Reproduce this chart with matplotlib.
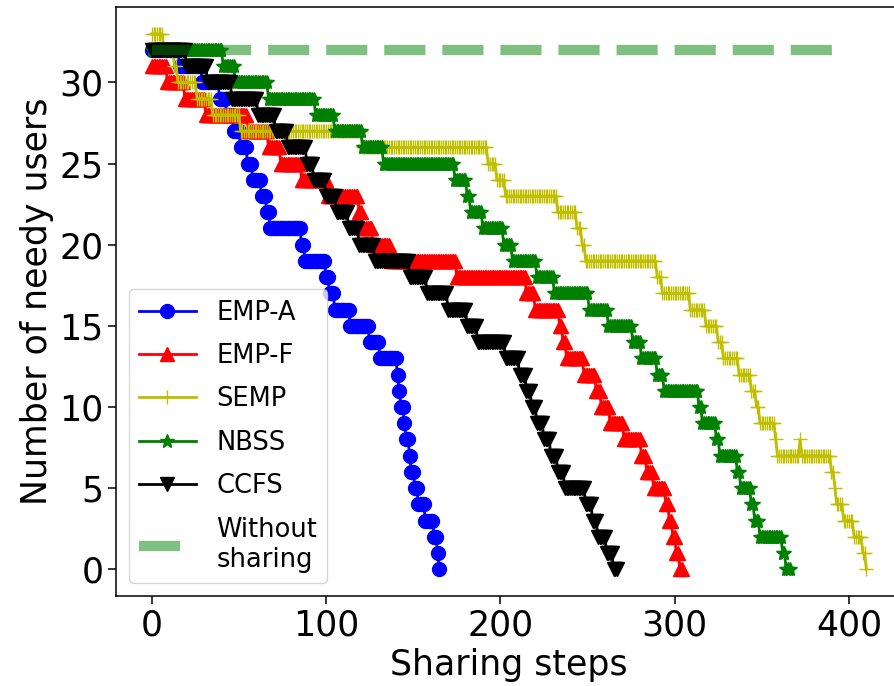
"""Needy users left vs. sharing steps for the five sharing schemes."""

import numpy as np
import matplotlib as mpl
import matplotlib.pyplot as plt

mpl.rcParams["font.family"] = "DejaVu Sans"

# every curve is a staircase: level value and last sharing step at that level
EMPA_LEVELS = [32, 31, 30, 29, 28, 27, 26, 25, 24, 23, 22, 21, 20, 19, 18, 17,
               16, 15, 14, 13, 12, 11, 10, 9, 8, 7, 6, 5, 4, 3, 2, 1, 0]
EMPA_ENDS = [15, 28, 38, 42, 46, 50, 54, 57, 62, 65, 67, 85, 87, 99, 101, 104,
             113, 124, 130, 140, 141, 142, 144, 145, 147, 148, 150, 152, 156,
             161, 163, 164, 165]

EMPF_LEVELS = [31, 30, 29, 28, 27, 26, 25, 24, 23, 22, 21, 20, 19, 18, 17, 16,
               15, 14, 13, 12, 11, 10, 9, 8, 7, 6, 5, 4, 3, 2, 1, 0]
EMPF_ENDS = [8, 18, 30, 54, 66, 73, 85, 100, 118, 120, 126, 136, 174, 214, 219,
             233, 235, 237, 247, 254, 257, 262, 270, 280, 283, 287, 294, 296,
             298, 300, 302, 304]

SEMP_LEVELS = [33, 32, 31, 30, 29, 28, 27, 26, 25, 24, 23, 22, 21, 20, 19, 18,
               17, 16, 15, 14, 13, 12, 11, 10, 9, 8, 7, 8, 7, 6, 5, 4, 3, 2, 1, 0]
SEMP_ENDS = [6, 12, 14, 25, 34, 50, 120, 192, 197, 202, 232, 243, 246, 248, 289,
             292, 308, 317, 324, 327, 336, 343, 346, 348, 357, 358, 371, 372,
             389, 391, 392, 396, 402, 407, 409, 410]

NBSS_LEVELS = [32, 31, 30, 29, 28, 27, 26, 25, 24, 23, 22, 21, 20, 19, 18, 17,
               16, 15, 14, 13, 12, 11, 10, 9, 8, 7, 6, 5, 4, 3, 2, 1, 0]
NBSS_ENDS = [40, 47, 66, 93, 104, 120, 132, 173, 180, 182, 189, 201, 206, 220,
             230, 250, 261, 275, 280, 289, 293, 313, 315, 323, 325, 335, 337,
             343, 345, 348, 361, 363, 366]

CCFS_LEVELS = [32, 31, 30, 29, 28, 27, 26, 25, 24, 23, 22, 21, 20, 19, 18, 17,
               16, 15, 14, 13, 12, 11, 10, 9, 8, 7, 6, 5, 4, 3, 2, 1, 0]
CCFS_ENDS = [19, 31, 45, 60, 70, 77, 88, 92, 99, 105, 112, 118, 127, 147, 157,
             169, 180, 186, 202, 210, 214, 217, 220, 224, 228, 232, 236, 248,
             252, 255, 260, 264, 267]

NO_SHARING_X = [0, 392]
NO_SHARING_Y = [32, 32]

SERIES = [
    ("EMP-A", EMPA_LEVELS, EMPA_ENDS, "b", "o"),
    ("EMP-F", EMPF_LEVELS, EMPF_ENDS, "r", "^"),
    ("SEMP", SEMP_LEVELS, SEMP_ENDS, "y", "+"),
    ("NBSS", NBSS_LEVELS, NBSS_ENDS, "g", "*"),
    ("CCFS", CCFS_LEVELS, CCFS_ENDS, "k", "v"),
]


def staircase(levels, ends):
    counts = np.diff([-1] + list(ends))
    y = np.repeat(levels, counts)
    return np.arange(len(y)), y


fig = plt.figure(figsize=(8.94, 6.86), dpi=100)
ax = fig.add_axes([0.1298, 0.1312, 0.8792, 0.8586])

for name, levels, ends, color, marker in SERIES:
    x, y = staircase(levels, ends)
    ax.plot(x, y, color=color, marker=marker, markersize=10, linewidth=2,
            label=name)

ax.plot(NO_SHARING_X, NO_SHARING_Y, color="g", alpha=0.5, linewidth=7.4,
        dashes=(4.0, 1.65), label="Without\nsharing")

ax.set_xlim(-20.5, 430.5)
ax.set_xlabel("Sharing steps", fontsize=25)
ax.set_ylabel("Number of needy users", fontsize=25)
ax.set_xticks([0, 100, 200, 300, 400])
ax.tick_params(labelsize=25, length=5.5, width=1.1)
for sp in ax.spines.values():
    sp.set_linewidth(1.1)

ax.legend(loc="lower left", fontsize=18.5, labelspacing=0.68, handlelength=2.2)

fig.savefig("out.png", dpi=100, facecolor="white")
plt.close(fig)
